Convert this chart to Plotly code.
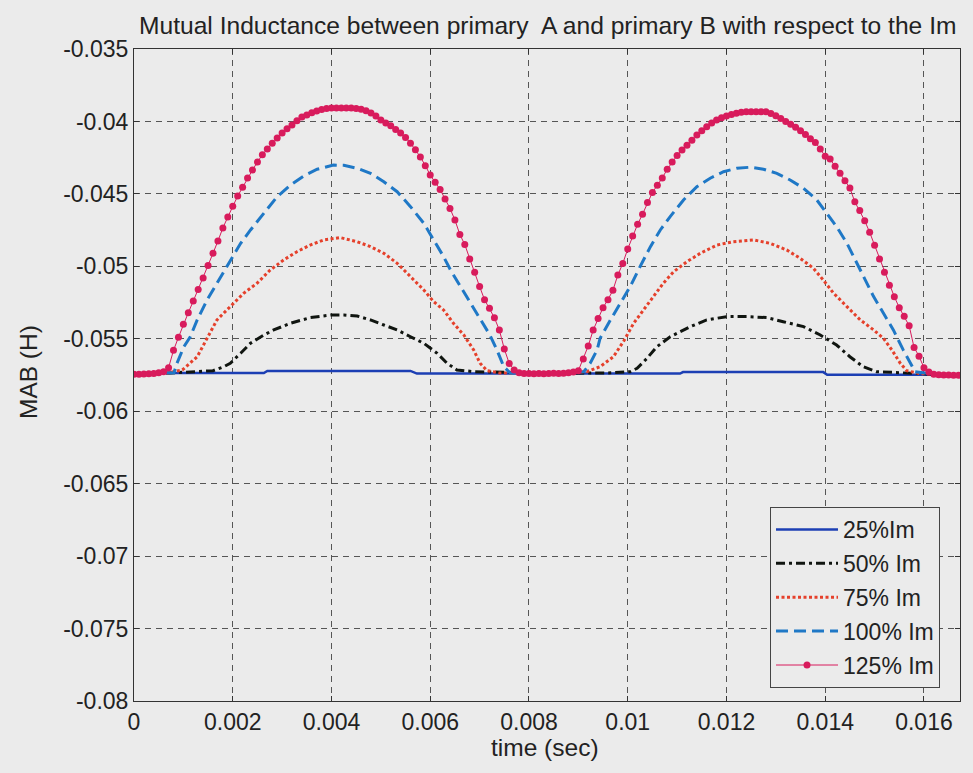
import numpy as np
import plotly.graph_objects as go

# ---- data (time in ms, mutual inductance in mH) ----
t25 = [0.65, 2.63, 2.70, 5.60, 5.73, 11.06, 11.12, 13.96, 14.04, 16.20]
m25 = [-57.36, -57.36, -57.22, -57.22, -57.40, -57.40, -57.30, -57.30, -57.48, -57.48]

t50 = [0.65, 1.21, 1.60, 1.82, 1.95, 2.16, 2.36, 2.63, 2.83, 3.17, 3.57, 3.98, 4.25, 4.52, 4.79,
       5.06, 5.33, 5.60, 5.87, 6.14, 6.34, 6.54, 6.88, 8.50, 9.60, 10.05, 10.19, 10.39,
       10.59, 10.86, 11.27, 11.60, 12.01, 12.41, 12.82, 13.15, 13.56, 13.90, 14.23, 14.50,
       14.77, 15.04, 16.20]
m50 = [-57.38, -57.27, -57.20, -56.93, -56.69, -56.00, -55.31, -54.74, -54.39, -53.93, -53.54,
       -53.36, -53.36, -53.43, -53.70, -54.05, -54.39, -54.86, -55.31, -56.00, -56.69,
       -57.15, -57.27, -57.38, -57.36, -57.27, -57.04, -56.35, -55.55, -54.86, -54.16,
       -53.70, -53.47, -53.47, -53.54, -53.82, -54.16, -54.74, -55.43, -56.24, -56.93,
       -57.27, -57.45]

t75 = [0.65, 0.98, 1.28, 1.48, 1.68, 1.95, 2.22, 2.49, 2.76, 3.03, 3.30, 3.57, 3.84, 4.18,
       4.52, 4.79, 5.06, 5.33, 5.60, 5.87, 6.07, 6.27, 6.47, 6.68, 6.88, 7.01, 7.15, 7.40,
       8.50, 9.17, 9.44, 9.71, 9.92, 10.12, 10.32, 10.52, 10.72, 10.93, 11.20, 11.47, 11.81,
       12.14, 12.55, 12.88, 13.22, 13.49, 13.76, 13.96, 14.17, 14.44, 14.71, 14.98, 15.18,
       15.35, 15.52, 15.65, 15.90, 16.20]
m75 = [-57.38, -57.15, -56.24, -54.97, -53.70, -52.78, -51.86, -51.17, -50.25, -49.56,
       -48.99, -48.53, -48.18, -48.02, -48.30, -48.64, -49.10, -49.79, -50.71, -51.63,
       -52.44, -53.01, -53.93, -54.74, -55.77, -56.69, -57.20, -57.36, -57.38, -57.27,
       -56.93, -56.24, -55.15, -53.93, -53.01, -52.09, -51.17, -50.37, -49.68, -49.10,
       -48.53, -48.30, -48.18, -48.41, -48.87, -49.44, -50.13, -50.94, -51.86, -52.78,
       -53.70, -54.39, -54.97, -55.77, -56.69, -57.20, -57.40, -57.45]

t100 = [0.65, 0.81, 0.87, 1.01, 1.14, 1.28, 1.48, 1.68, 1.95, 2.16, 2.36, 2.63, 2.90, 3.17,
        3.44, 3.71, 4.04, 4.25, 4.52, 4.79, 5.06, 5.33, 5.60, 5.87, 6.07, 6.27, 6.41, 6.61,
        6.81, 7.01, 7.21, 7.35, 7.49, 7.62, 8.50, 9.11, 9.24, 9.38, 9.44, 9.65, 9.85, 10.05,
        10.25, 10.46, 10.66, 10.86, 11.13, 11.40, 11.67, 11.94, 12.21, 12.48, 12.75, 13.02,
        13.29, 13.56, 13.83, 14.03, 14.23, 14.44, 14.61, 14.77, 14.98, 15.18, 15.38, 15.58,
        15.72, 15.82, 16.20]
m100 = [-57.36, -57.34, -56.69, -55.55, -54.86, -53.70, -52.32, -51.17, -49.56, -48.41,
        -47.49, -46.34, -45.19, -44.39, -43.76, -43.30, -43.01, -43.03, -43.23, -43.58,
        -44.16, -44.85, -45.88, -47.03, -48.18, -49.33, -50.25, -51.40, -52.55, -53.70,
        -54.75, -55.77, -56.93, -57.36, -57.38, -57.27, -56.69, -55.77, -54.97, -53.70,
        -52.55, -51.40, -50.02, -48.64, -47.49, -46.57, -45.42, -44.50, -43.92, -43.47,
        -43.23, -43.16, -43.30, -43.58, -44.04, -44.61, -45.42, -46.34, -47.26, -48.41,
        -49.56, -50.71, -52.09, -53.24, -54.39, -55.77, -56.69, -57.27, -57.45]

t125 = [0.0, 0.1, 0.2, 0.3, 0.4, 0.5, 0.6, 0.7, 0.8, 0.9, 1.0, 1.1, 1.2, 1.3, 1.4, 1.5, 1.6,
        1.7, 1.8, 1.9, 2.0, 2.1, 2.2, 2.3, 2.4, 2.5, 2.6, 2.7, 2.8, 2.9, 3.0, 3.1, 3.2, 3.3,
        3.4, 3.5, 3.6, 3.7, 3.8, 3.9, 4.0, 4.1, 4.2, 4.3, 4.4, 4.5, 4.6, 4.7, 4.8, 4.9, 5.0,
        5.1, 5.2, 5.3, 5.4, 5.5, 5.6, 5.7, 5.8, 5.9, 6.0, 6.1, 6.2, 6.3, 6.4, 6.5, 6.6, 6.7,
        6.8, 6.9, 7.0, 7.1, 7.2, 7.3, 7.4, 7.5, 7.6, 7.7, 7.8, 7.9, 8.0, 8.1, 8.2, 8.3, 8.4,
        8.5, 8.6, 8.7, 8.8, 8.9, 9.0, 9.1, 9.2, 9.3, 9.4, 9.5, 9.6, 9.7, 9.8, 9.9, 10.0,
        10.1, 10.2, 10.3, 10.4, 10.5, 10.6, 10.7, 10.8, 10.9, 11.0, 11.1, 11.2, 11.3, 11.4,
        11.5, 11.6, 11.7, 11.8, 11.9, 12.0, 12.1, 12.2, 12.3, 12.4, 12.5, 12.6, 12.7, 12.8,
        12.9, 13.0, 13.1, 13.2, 13.3, 13.4, 13.5, 13.6, 13.7, 13.8, 13.9, 14.0, 14.1, 14.2,
        14.3, 14.4, 14.5, 14.6, 14.7, 14.8, 14.9, 15.0, 15.1, 15.2, 15.3, 15.4, 15.5, 15.6,
        15.7, 15.8, 15.9, 16.0, 16.1, 16.2, 16.3, 16.4, 16.5, 16.6, 16.7]
m125 = [-57.45, -57.45, -57.43, -57.42, -57.40, -57.35, -57.28, -57.00, -55.80, -54.90,
        -54.00, -53.20, -52.40, -51.60, -50.80, -49.95, -49.10, -48.25, -47.35, -46.60,
        -45.85, -45.15, -44.55, -43.90, -43.35, -42.80, -42.30, -41.90, -41.50, -41.15,
        -40.80, -40.50, -40.25, -39.95, -39.70, -39.55, -39.40, -39.28, -39.18, -39.10,
        -39.07, -39.07, -39.07, -39.07, -39.08, -39.10, -39.15, -39.27, -39.42, -39.62,
        -39.90, -40.10, -40.30, -40.55, -40.80, -41.10, -41.50, -41.95, -42.45, -43.05,
        -43.70, -44.20, -44.70, -45.35, -46.00, -46.80, -47.80, -48.50, -49.50, -50.40,
        -51.40, -52.30, -52.90, -53.55, -54.40, -55.70, -56.70, -57.15, -57.35, -57.40,
        -57.40, -57.42, -57.40, -57.42, -57.40, -57.38, -57.40, -57.38, -57.35, -57.30,
        -57.20, -56.40, -55.50, -54.40, -53.60, -52.85, -52.30, -51.65, -50.60, -49.80,
        -48.80, -47.90, -47.10, -46.40, -45.60, -44.90, -44.40, -43.90, -43.30, -42.80,
        -42.35, -41.97, -41.65, -41.30, -40.94, -40.65, -40.36, -40.10, -39.90, -39.75,
        -39.62, -39.52, -39.43, -39.36, -39.33, -39.33, -39.33, -39.33, -39.33, -39.45,
        -39.60, -39.80, -40.00, -40.20, -40.40, -40.65, -40.90, -41.20, -41.45, -41.90,
        -42.40, -42.60, -43.10, -43.58, -44.10, -44.60, -45.55, -46.15, -46.85, -47.65,
        -48.55, -49.50, -50.40, -51.30, -52.10, -52.85, -53.45, -54.10, -55.60, -56.20,
        -57.00, -57.30, -57.45, -57.48, -57.50, -57.50, -57.52, -57.52]

x_ticks = [0, 0.002, 0.004, 0.006, 0.008, 0.01, 0.012, 0.014, 0.016]
x_ticklabels = ["0", "0.002", "0.004", "0.006", "0.008", "0.01", "0.012", "0.014", "0.016"]
y_ticks = [-0.035, -0.04, -0.045, -0.05, -0.055, -0.06, -0.065, -0.07, -0.075, -0.08]
y_ticklabels = ["-0.035", "-0.04", "-0.045", "-0.05", "-0.055", "-0.06", "-0.065",
                "-0.07", "-0.075", "-0.08"]

FONT = "Liberation Sans, Arial, sans-serif"
BG = "#ebebeb"
TXT = "#222222"


def sec(a):
    return np.array(a) / 1000.0


fig = go.Figure()
fig.add_trace(go.Scatter(x=sec(t25), y=sec(m25), mode="lines", name="25%Im",
                         legendgroup="a",
                         line=dict(color="#1c3fb4", width=2.5)))
fig.add_trace(go.Scatter(x=sec(t50), y=sec(m50), mode="lines", name="50% Im",
                         legendgroup="b",
                         line=dict(color="#101510", width=3, dash="9px,4px,3px,4px")))
fig.add_trace(go.Scatter(x=sec(t75), y=sec(m75), mode="lines", name="75% Im",
                         legendgroup="c",
                         line=dict(color="#e5402b", width=3, dash="3px,2.5px")))
fig.add_trace(go.Scatter(x=sec(t100), y=sec(m100), mode="lines", name="100% Im",
                         legendgroup="d",
                         line=dict(color="#1f78c6", width=3, dash="12px,6px")))
fig.add_trace(go.Scatter(x=sec(t125), y=sec(m125), mode="lines+markers", name="125% Im",
                         legendgroup="e",
                         line=dict(color="#d81b5c", width=1),
                         marker=dict(color="#d81b5c", size=7)))

axis_common = dict(
    showline=True, linecolor="#333333", linewidth=1, mirror="ticks",
    ticks="inside", ticklen=5, tickcolor="#333333",
    showgrid=True, gridcolor="#555555", gridwidth=1, griddash="6px,5px",
    zeroline=False,
    tickfont=dict(family=FONT, size=23, color=TXT),
)

fig.update_xaxes(range=[0, 0.01673], tickvals=x_ticks, ticktext=x_ticklabels,
                 **axis_common)
fig.update_yaxes(range=[-0.08, -0.035], tickvals=y_ticks, ticktext=y_ticklabels,
                 **axis_common)

fig.update_layout(
    width=973, height=773,
    margin=dict(l=134, r=13, t=49, b=72),
    paper_bgcolor=BG, plot_bgcolor=BG,
    font=dict(family=FONT, size=23, color=TXT),
    showlegend=True,
    legend=dict(x=0.9758, xanchor="right", y=0.02, yanchor="bottom",
                bgcolor=BG, bordercolor="#444444", borderwidth=1,
                font=dict(family=FONT, size=23, color=TXT),
                itemwidth=62, tracegroupgap=1),
    annotations=[
        dict(text="Mutual Inductance between primary  A and primary B with respect to the Im",
             xref="paper", yref="paper", x=0.5, y=1.0368, xanchor="center",
             yanchor="middle", showarrow=False,
             font=dict(family=FONT, size=24.6, color=TXT)),
        dict(text="time (sec)", xref="paper", yref="paper", x=0.4976, y=-0.0706,
             xanchor="center", yanchor="middle", showarrow=False,
             font=dict(family=FONT, size=24.5, color=TXT)),
        dict(text="MAB (H)", xref="paper", yref="paper", x=-0.1283, y=0.5046,
             xanchor="center", yanchor="middle", textangle=-90, showarrow=False,
             font=dict(family=FONT, size=24.5, color=TXT)),
    ],
)

fig.write_html("out.html")
